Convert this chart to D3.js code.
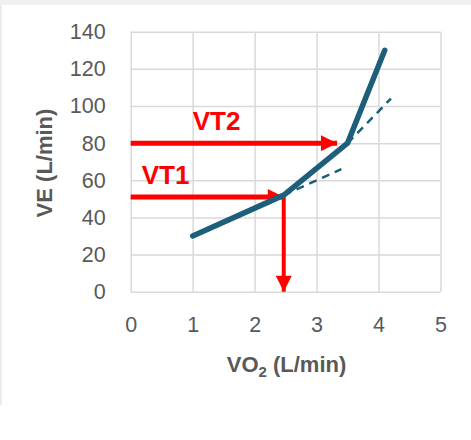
<!DOCTYPE html>
<html>
<head>
<meta charset="utf-8">
<script src="https://cdn.jsdelivr.net/npm/d3@7"></script>
<style>
  body { margin: 0; background: #fff; }
  svg { display: block; font-family: "Liberation Sans", Arial, sans-serif; }
</style>
</head>
<body>
<div id="chart"></div>
<script>
// values
var xTicks = [0, 1, 2, 3, 4, 5];
var yTicks = [0, 20, 40, 60, 80, 100, 120, 140];

// VE against VO2 (L/min)
var veCurve = [[1, 30], [2.47, 52], [3.5, 80], [4.1, 130]];

// extrapolated slopes (dashed)
var trend1 = [[2.47, 52], [3.4, 66]];
var trend2 = [[3.5, 80], [4.2, 104]];

// thresholds
var thresholds = [
  {name: "VT1", vo2: 2.47, ve: 51, end: 2.47},
  {name: "VT2", vo2: 3.5, ve: 80, end: 3.33}
];

var svgWidth = 471,
    svgHeight = 440,
    margin = {top: 31.7, right: 30.5, bottom: 148.3, left: 130.7};

var width = svgWidth - margin.left - margin.right;
var height = svgHeight - margin.top - margin.bottom;

var blue = "#1d5e7b",
    red = "#ff0000",
    grey = "#595959",
    gridColor = "#d9d9d9";

var svg = d3.select("#chart")
  .append("svg")
  .attr("width", svgWidth)
  .attr("height", svgHeight);

// frame round the chart
svg.append("rect")
  .attr("x", 0).attr("y", 0)
  .attr("width", svgWidth).attr("height", 5)
  .attr("fill", "#f0f0f0");
svg.append("line")
  .attr("x1", 1).attr("x2", 1)
  .attr("y1", 5).attr("y2", 405)
  .attr("stroke", "#e6e6e6")
  .attr("stroke-width", 1.5);

var g = svg.append("g")
  .attr("transform", "translate(" + margin.left + "," + margin.top + ")");

var x = d3.scaleLinear().domain([0, 5]).range([0, width]);
var y = d3.scaleLinear().domain([0, 140]).range([height, 0]);

// axes with gridlines
var yAxis = g.append("g")
  .call(d3.axisLeft(y).tickValues(yTicks).tickSize(-width).tickPadding(25)
    .tickFormat(d3.format("d")));
var xAxis = g.append("g")
  .attr("transform", "translate(0," + height + ")")
  .call(d3.axisBottom(x).tickValues(xTicks).tickSize(-height).tickPadding(25)
    .tickFormat(d3.format("d")));

[xAxis, yAxis].forEach(function(ax) {
  ax.select(".domain").remove();
  ax.selectAll("line")
    .attr("stroke", gridColor)
    .attr("stroke-width", 1.5);
  ax.selectAll("text")
    .attr("fill", grey)
    .style("font-size", "21.5px");
});

// arrow heads
var defs = svg.append("defs");
defs.append("marker")
  .attr("id", "arrow")
  .attr("viewBox", "0 0 10 10")
  .attr("refX", 10).attr("refY", 5)
  .attr("markerUnits", "userSpaceOnUse")
  .attr("markerWidth", 17).attr("markerHeight", 16)
  .attr("orient", "auto")
  .append("path")
  .attr("d", "M0,0L10,5L0,10Z")
  .attr("fill", red);

var line = d3.line()
  .x(function(d) { return x(d[0]); })
  .y(function(d) { return y(d[1]); });

// threshold arrows
thresholds.forEach(function(t) {
  g.append("line")
    .attr("x1", x(0)).attr("x2", x(t.end))
    .attr("y1", y(t.ve)).attr("y2", y(t.ve))
    .attr("stroke", red)
    .attr("stroke-width", 5)
    .attr("marker-end", "url(#arrow)");
});

// vertical arrow down from VT1
g.append("line")
  .attr("x1", x(thresholds[0].vo2)).attr("x2", x(thresholds[0].vo2))
  .attr("y1", y(thresholds[0].ve) - 2).attr("y2", y(0))
  .attr("stroke", red)
  .attr("stroke-width", 4)
  .attr("marker-end", "url(#arrow)");

// dashed trend lines
[trend1, trend2].forEach(function(t) {
  g.append("path")
    .datum(t)
    .attr("d", line)
    .attr("fill", "none")
    .attr("stroke", blue)
    .attr("stroke-width", 2.5)
    .attr("stroke-dasharray", "8,6");
});

// main curve
g.append("path")
  .datum(veCurve)
  .attr("d", line)
  .attr("fill", "none")
  .attr("stroke", blue)
  .attr("stroke-width", 5.5)
  .attr("stroke-linecap", "round")
  .attr("stroke-linejoin", "round");

// threshold labels
g.selectAll(".vtLabel")
  .data(thresholds)
  .enter()
  .append("text")
  .attr("class", "vtLabel")
  .attr("x", function(d, i) { return i === 0 ? 11 : 62; })
  .attr("y", function(d) { return y(d.ve) - 13; })
  .attr("fill", red)
  .style("font-size", "26px")
  .style("font-weight", "bold")
  .text(function(d) { return d.name; });

// axis titles
var xTitle = svg.append("text")
  .attr("x", 286.5)
  .attr("y", 371.5)
  .attr("text-anchor", "middle")
  .attr("fill", grey)
  .style("font-size", "22px")
  .style("font-weight", "bold");
xTitle.append("tspan").text("VO");
xTitle.append("tspan").attr("dy", 5).style("font-size", "15px").text("2");
xTitle.append("tspan").attr("dy", -5).text(" (L/min)");

svg.append("text")
  .attr("transform", "translate(52,163) rotate(-90)")
  .attr("text-anchor", "middle")
  .attr("fill", grey)
  .style("font-size", "22px")
  .style("font-weight", "bold")
  .text("VE (L/min)");
</script>
</body>
</html>
